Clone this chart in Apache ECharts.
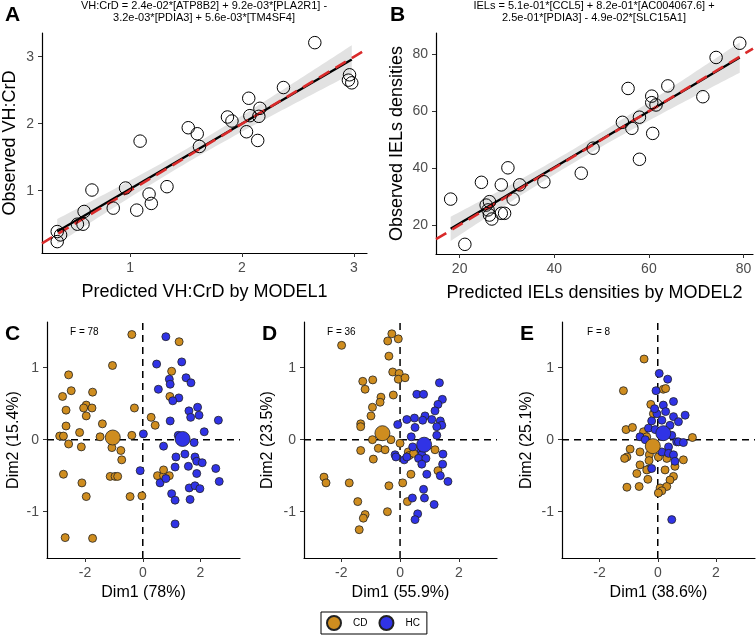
<!DOCTYPE html>
<html><head><meta charset="utf-8">
<script src="https://cdn.jsdelivr.net/npm/echarts@6/dist/echarts.min.js"></script>
<style>html,body{margin:0;padding:0;background:#fff}#c{width:756px;height:635px}</style>
</head><body><div id="c"></div>
<script>
// ---------- Panel A data ----------
const predA = [2.65,2.96,2.95,2.98,2.37,2.06,2.16,2.15,2.07,1.87,1.91,2.04,2.14,1.52,1.60,1.09,1.62,0.66,0.96,1.33,1.17,1.19,1.06,0.85,0.59,0.58,0.53,0.35,0.38,0.35];
const obsA  = [3.21,2.73,2.65,2.61,2.54,2.38,2.23,2.11,2.12,2.10,2.04,1.88,1.75,1.94,1.85,1.74,1.66,1.01,1.04,1.06,0.95,0.81,0.71,0.74,0.69,0.50,0.50,0.39,0.34,0.24];
// ---------- Panel B data ----------
const predB = [79.2,74.2,71.4,64.0,55.6,60.6,60.6,61.5,58.0,54.4,56.4,60.8,48.2,58.0,45.7,37.8,32.7,28.8,30.2,24.6,18.1,31.3,26.3,25.6,26.0,26.3,28.8,29.5,26.8,21.1];
const obsB  = [83.9,78.9,65.1,68.9,68.0,65.3,63.0,62.2,57.9,56.1,54.0,52.2,47.0,43.1,38.2,35.2,34.1,34.1,40.1,35.0,29.1,29.1,28.2,27.0,25.3,23.5,24.1,24.1,22.1,13.2];
// ---------- Panel C (PCA, F = 78) ----------
const cdC = [[-0.38,1.46],[1.26,1.36],[-1.05,1.03],[1.00,0.95],[-2.57,0.90],[-2.48,0.68],[-1.74,0.66],[-2.78,0.60],[0.94,0.60],[-1.96,0.48],[-2.05,0.44],[-1.76,0.44],[-2.66,0.41],[-1.96,0.33],[-0.29,0.44],[0.29,0.31],[0.43,0.20],[-2.66,0.19],[-1.40,0.22],[-2.19,0.10],[-2.88,0.05],[-2.75,0.05],[-1.48,0.04],[-0.38,0.06],[-2.57,-0.06],[-2.13,-0.10],[-1.07,-0.11],[-0.76,-0.15],[-0.73,-0.28],[1.26,0.04],[-2.75,-0.48],[-1.13,-0.51],[-0.96,-0.51],[-0.87,-0.51],[-2.11,-0.60],[-1.96,-0.79],[-0.44,-0.79],[-0.03,-0.78],[0.51,-0.50],[0.72,-0.50],[0.92,-0.50],[0.72,-0.42],[-2.69,-1.36],[-1.74,-1.37]];
const hcC = [[0.80,1.43],[0.48,1.05],[1.35,1.08],[0.92,0.84],[0.95,0.77],[1.50,0.86],[1.67,0.79],[0.54,0.70],[1.25,0.58],[1.04,0.54],[1.60,0.40],[1.90,0.45],[1.95,0.34],[1.66,0.31],[2.62,0.27],[0.95,0.26],[2.13,0.11],[0.02,0.08],[1.23,0.06],[0.72,-0.09],[1.78,-0.04],[1.46,-0.20],[1.15,-0.24],[1.81,-0.24],[1.87,-0.30],[2.06,-0.32],[1.58,-0.37],[1.12,-0.38],[2.53,-0.40],[1.87,-0.47],[-0.09,-0.43],[0.60,-0.60],[0.80,-0.54],[1.00,-0.75],[1.12,-0.84],[1.61,-0.67],[1.81,-0.64],[1.98,-0.68],[1.64,-0.83],[2.65,-0.58],[1.12,-1.17]];
const cenC = {CD: [-1.04, 0.03], HC: [1.38, 0.01]};
// ---------- Panel D (PCA, F = 36) ----------
const cdD = [[-1.99,1.31],[-0.28,1.47],[-0.42,1.37],[-0.06,1.40],[-0.38,1.16],[-0.25,0.94],[-0.03,0.92],[-0.06,0.84],[0.17,0.86],[-1.27,0.81],[-0.93,0.83],[-1.19,0.70],[-0.23,0.62],[-0.65,0.59],[-0.68,0.52],[-0.94,0.45],[-0.99,0.33],[-1.34,0.22],[-1.34,0.18],[-0.94,0.00],[-0.31,0.00],[0.00,-0.05],[-1.34,-0.15],[-0.74,-0.12],[-0.51,-0.14],[-0.91,-0.27],[0.28,-0.17],[0.31,-0.22],[0.46,-0.19],[1.19,-0.14],[1.29,-0.43],[0.37,-0.48],[-2.59,-0.52],[-2.52,-0.60],[-1.73,-0.60],[-0.38,-0.64],[0.09,-0.60],[-1.44,-0.86],[0.25,-0.86],[-1.19,-1.04],[-1.25,-1.09],[-0.43,-1.00],[-1.39,-1.25]];
const hcD = [[1.34,0.79],[0.57,0.63],[0.80,0.63],[1.44,0.56],[1.29,0.49],[1.19,0.40],[0.85,0.33],[0.49,0.30],[0.23,0.28],[0.77,0.27],[1.08,0.28],[1.37,0.26],[1.42,0.20],[1.25,0.18],[-0.08,0.21],[0.51,0.17],[0.38,0.04],[1.25,0.06],[0.43,-0.10],[0.71,-0.14],[0.74,-0.21],[0.63,-0.26],[0.88,-0.26],[0.74,-0.34],[1.46,-0.20],[1.45,-0.34],[-0.17,-0.21],[-0.14,-0.24],[0.14,-0.28],[0.23,-0.24],[0.91,-0.48],[1.37,-0.50],[1.63,-0.58],[0.80,-0.69],[0.42,-0.81],[0.83,-0.81],[1.16,-0.90],[0.60,-1.03],[0.51,-1.11]];
const cenD = {CD: [-0.60, 0.09], HC: [0.82, -0.07]};
// ---------- Panel E (PCA, F = 8) ----------
const cdE = [[-0.47,1.12],[-1.18,0.68],[0.19,0.70],[0.27,0.71],[-0.24,0.49],[-0.15,0.36],[-1.09,0.14],[-0.87,0.17],[1.19,0.03],[-0.49,0.11],[-0.38,0.04],[-0.61,-0.17],[-0.95,-0.13],[-1.06,-0.24],[-1.14,-0.26],[-0.29,-0.21],[-0.30,-0.29],[0.02,-0.24],[-0.61,-0.35],[-0.32,-0.41],[-0.72,-0.47],[0.31,-0.26],[0.25,-0.42],[0.59,-0.37],[0.54,-0.51],[0.42,-0.56],[0.88,-0.28],[0.08,-0.67],[0.31,-0.65],[-0.34,-0.55],[-0.64,-0.65],[-1.06,-0.66],[0.14,-0.71],[0.02,-0.74],[-0.38,-0.42]];
const hcE = [[0.05,0.92],[0.34,0.84],[-0.06,0.68],[0.54,0.53],[0.19,0.48],[0.27,0.39],[-0.03,0.36],[0.94,0.34],[0.54,0.32],[0.71,0.25],[0.42,0.20],[-0.21,0.26],[0.14,0.27],[-0.32,0.16],[-0.09,0.14],[0.25,0.09],[0.48,0.06],[0.65,-0.03],[-0.61,0.04],[-0.43,0.00],[0.37,-0.10],[0.71,-0.03],[0.14,-0.17],[0.37,-0.19],[0.54,-0.21],[-0.21,-0.40],[0.59,-0.30],[0.88,-0.04],[-0.11,0.43],[0.48,-1.11]];
const cenE = {CD: [-0.17, -0.09], HC: [0.19, 0.09]};
// ---------- Text ----------
const formulaA = 'VH:CrD = 2.4e-02*[ATP8B2] + 9.2e-03*[PLA2R1] -\n3.2e-03*[PDIA3] + 5.6e-03*[TM4SF4]';
const formulaB = 'IELs = 5.1e-01*[CCL5] + 8.2e-01*[AC004067.6] +\n2.5e-01*[PDIA3] - 4.9e-02*[SLC15A1]';
const fLabels = ['F = 78', 'F = 36', 'F = 8'];
const dim1Names = ['Dim1 (78%)', 'Dim1 (55.9%)', 'Dim1 (38.6%)'];
const dim2Names = ['Dim2 (15.4%)', 'Dim2 (23.5%)', 'Dim2 (25.1%)'];
const ticksA = [1, 2, 3];
const ticksB = [20, 40, 60, 80];
const ticksDim1 = [-2, 0, 2];
const ticksDim2 = [-1, 0, 1];
const groups = ['CD', 'HC'];

// ---------- helpers ----------
function lmFit(xs, ys) {
  const n = xs.length;
  const xbar = xs.reduce((a, b) => a + b, 0) / n;
  const ybar = ys.reduce((a, b) => a + b, 0) / n;
  let sxx = 0, sxy = 0;
  for (let i = 0; i < n; i++) { sxx += (xs[i] - xbar) ** 2; sxy += (xs[i] - xbar) * (ys[i] - ybar); }
  const b = sxy / sxx, a = ybar - b * xbar;
  let sse = 0;
  for (let i = 0; i < n; i++) sse += (ys[i] - a - b * xs[i]) ** 2;
  const s = Math.sqrt(sse / (n - 2));
  const t = 2.048;
  const xmin = Math.min(...xs), xmax = Math.max(...xs);
  const band = [];
  const N = 80;
  for (let k = 0; k <= N; k++) {
    const x = xmin + (xmax - xmin) * k / N;
    const yh = a + b * x;
    const se = s * Math.sqrt(1 / n + (x - xbar) ** 2 / sxx);
    band.push([x, yh + t * se, yh - t * se]);
  }
  return { a, b, xmin, xmax, band };
}
const fitA = lmFit(predA, obsA);
const fitB = lmFit(predB, obsB);

const FONT = 'Liberation Sans, Arial, sans-serif';
const ORANGE = '#CF8D1F';
const BLUE = '#3033E6';

const rangesX = [[0.214, 3.116], [15.0, 82.0], [-3.32, 3.37], [-3.27, 3.30], [-3.29, 3.34]];
const rangesY = [[0.07, 3.354], [9.8, 87.5], [-1.643, 1.634], [-1.643, 1.634], [-1.643, 1.634]];

const grids = [
  { left: 42, top: 33, width: 325, height: 220 },
  { left: 436, top: 33, width: 317, height: 221 },
  { left: 47, top: 322, width: 193, height: 236 },
  { left: 304, top: 322, width: 193, height: 236 },
  { left: 562, top: 322, width: 193, height: 236 }
];

function axisBase(ticks, labelSize, nameSize) {
  return {
    axisLine: { show: true, onZero: false, lineStyle: { color: '#000', width: 1.2 } },
    axisTick: { show: true, length: 4, lineStyle: { color: '#333', width: 1 }, customValues: ticks },
    axisLabel: { color: '#4D4D4D', fontSize: labelSize, fontFamily: FONT, margin: 8, customValues: ticks },
    splitLine: { show: false },
    nameTextStyle: { color: '#000', fontSize: nameSize, fontFamily: FONT },
    nameLocation: 'middle'
  };
}

const xAxes = [], yAxes = [];
const xNames = ['Predicted VH:CrD by MODEL1', 'Predicted IELs densities by MODEL2'].concat(dim1Names);
const yNames = ['Observed VH:CrD', 'Observed IELs densities'].concat(dim2Names);
const xTicks = [ticksA, ticksB, ticksDim1, ticksDim1, ticksDim1];
const yTicks = [ticksA, ticksB, ticksDim2, ticksDim2, ticksDim2];
const yGaps = [23, 30, 25, 28, 27];
for (let i = 0; i < 5; i++) {
  const ns = i < 2 ? 18 : 16;
  xAxes.push(Object.assign(axisBase(xTicks[i], 14, ns), {
    type: 'value', gridIndex: i, min: rangesX[i][0], max: rangesX[i][1],
    name: xNames[i], nameGap: i < 2 ? 30 : 27
  }));
  yAxes.push(Object.assign(axisBase(yTicks[i], 14, ns), {
    type: 'value', gridIndex: i, min: rangesY[i][0], max: rangesY[i][1],
    name: yNames[i], nameGap: yGaps[i], nameRotate: 90
  }));
}

const series = [];
// Regression panels
[[fitA, predA, obsA], [fitB, predB, obsB]].forEach(([fit, xs, ys], i) => {
  series.push({
    type: 'custom', xAxisIndex: i, yAxisIndex: i, z: 1, silent: true,
    data: [[fit.band[0][0], fit.band[0][1]]],
    renderItem: function (params, api) {
      const up = fit.band.map(p => api.coord([p[0], p[1]]));
      const lo = fit.band.map(p => api.coord([p[0], p[2]])).reverse();
      return { type: 'polygon', shape: { points: up.concat(lo) }, style: { fill: '#E2E2E2' } };
    }
  });
  series.push({
    type: 'line', xAxisIndex: i, yAxisIndex: i, z: 2, symbol: 'none', silent: true,
    data: [[fit.xmin, fit.a + fit.b * fit.xmin], [fit.xmax, fit.a + fit.b * fit.xmax]],
    lineStyle: { color: '#000', width: 2.3 }
  });
  series.push({
    type: 'line', xAxisIndex: i, yAxisIndex: i, z: 3, symbol: 'none', silent: true,
    data: [[rangesX[i][0], rangesX[i][0]], [rangesX[i][1], rangesX[i][1]]],
    lineStyle: { color: '#D92A2A', width: 2.6, type: [12, 7] }
  });
  series.push({
    type: 'scatter', xAxisIndex: i, yAxisIndex: i, z: 4, symbolSize: 12.5,
    data: xs.map((x, k) => [x, ys[k]]),
    itemStyle: { color: 'rgba(255,255,255,0)', borderColor: '#000', borderWidth: 1, opacity: 1 }
  });
});
// PCA panels
const pca = [[cdC, hcC, cenC], [cdD, hcD, cenD], [cdE, hcE, cenE]];
pca.forEach(([cd, hc, cen], j) => {
  const i = j + 2;
  series.push({
    type: 'line', xAxisIndex: i, yAxisIndex: i, z: 1, symbol: 'none', silent: true,
    data: [[rangesX[i][0], 0], [rangesX[i][1], 0]],
    lineStyle: { color: '#000', width: 1.5, type: [7, 5] }
  });
  series.push({
    type: 'line', xAxisIndex: i, yAxisIndex: i, z: 1, symbol: 'none', silent: true,
    data: [[0, rangesY[i][0]], [0, rangesY[i][1]]],
    lineStyle: { color: '#000', width: 1.5, type: [7, 5] }
  });
  series.push({
    name: 'CD', type: 'scatter', xAxisIndex: i, yAxisIndex: i, z: 3, symbolSize: 8,
    data: cd, itemStyle: { color: ORANGE, borderColor: '#222', borderWidth: 0.8, opacity: 1 }
  });
  series.push({
    name: 'HC', type: 'scatter', xAxisIndex: i, yAxisIndex: i, z: 4, symbolSize: 8,
    data: hc, itemStyle: { color: BLUE, borderColor: '#222', borderWidth: 0.8, opacity: 1 }
  });
  series.push({
    name: 'CD', type: 'scatter', xAxisIndex: i, yAxisIndex: i, z: 5, symbolSize: 15,
    data: [cen.CD], itemStyle: { color: ORANGE, borderColor: '#222', borderWidth: 0.8, opacity: 1 }
  });
  series.push({
    name: 'HC', type: 'scatter', xAxisIndex: i, yAxisIndex: i, z: 6, symbolSize: 15,
    data: [cen.HC], itemStyle: { color: BLUE, borderColor: '#222', borderWidth: 0.8, opacity: 1 }
  });
});

const letter = (t, left, top) => ({ text: t, left, top, padding: 0, textStyle: { fontSize: 21, fontWeight: 'bold', color: '#000', fontFamily: FONT } });
const small = (t, left, top) => ({ text: t, left, top, padding: 0, textStyle: { fontSize: 10, fontWeight: 'normal', color: '#000', fontFamily: FONT } });
const titles = [
  letter('A', 5, 5), letter('B', 390, 5), letter('C', 5, 324), letter('D', 262, 324), letter('E', 520, 324),
  { text: formulaA, left: 204, top: 0, padding: 0, textAlign: 'center',
    textStyle: { fontSize: 11, fontWeight: 'normal', color: '#000', fontFamily: FONT, lineHeight: 12 } },
  { text: formulaB, left: 594, top: 0, padding: 0, textAlign: 'center',
    textStyle: { fontSize: 11, fontWeight: 'normal', color: '#000', fontFamily: FONT, lineHeight: 12 } },
  small(fLabels[0], 70, 327), small(fLabels[1], 327, 327), small(fLabels[2], 587, 327)
];

const chart = echarts.init(document.getElementById('c'), null, { renderer: 'canvas' });
chart.setOption({
  animation: false,
  backgroundColor: '#fff',
  title: titles,
  grid: grids,
  xAxis: xAxes,
  yAxis: yAxes,
  legend: {
    data: groups.map(g => ({ name: g, icon: 'circle' })),
    left: 321, top: 612, orient: 'horizontal',
    itemWidth: 28, itemHeight: 14, itemGap: 11,
    padding: [3, 7, 3, 5],
    borderColor: '#000', borderWidth: 1,
    selectedMode: false,
    textStyle: { fontSize: 10, color: '#000', fontFamily: FONT }
  },
  series: series
});
</script></body></html>
